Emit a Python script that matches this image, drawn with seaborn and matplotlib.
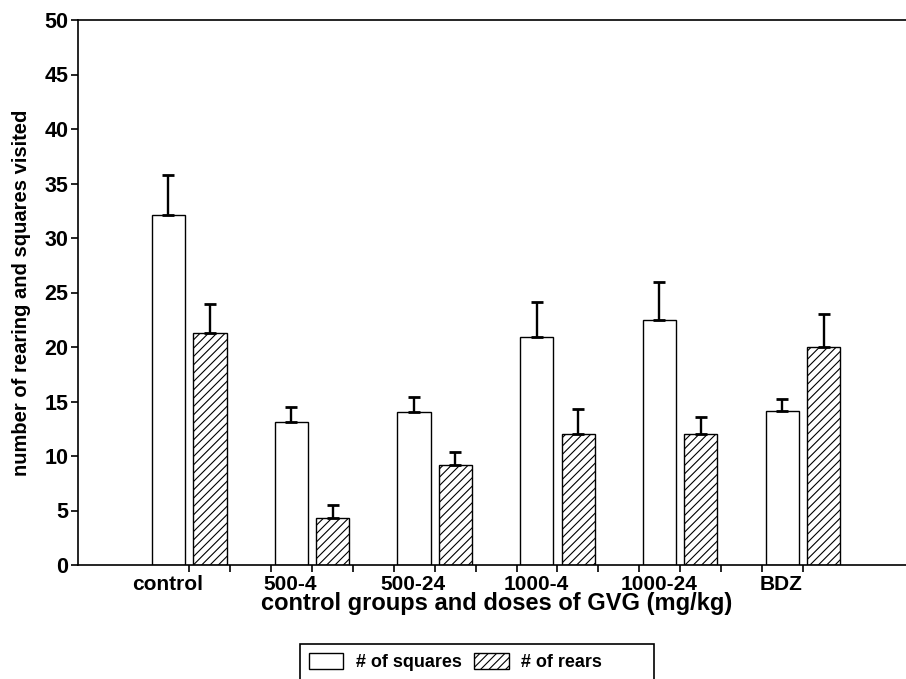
import numpy as np
import pandas as pd
import matplotlib
matplotlib.use("Agg")
import matplotlib.pyplot as plt
import matplotlib.transforms as mtransforms
from matplotlib.patches import Patch, Rectangle
import seaborn as sns

groups = ["control", "500-4", "500-24", "1000-4", "1000-24", "BDZ"]
series = ["# of squares", "# of rears"]
squares = [32.1, 13.15, 14.0, 20.9, 22.5, 14.1]
squares_sem = [3.7, 1.35, 1.4, 3.2, 3.45, 1.1]
rears = [21.3, 4.35, 9.2, 12.0, 12.0, 20.0]
rears_sem = [2.6, 1.15, 1.15, 2.3, 1.55, 3.0]
y_ticks = list(range(0, 55, 5))

sns.set_style("ticks")
plt.rcParams['font.family'] = ['Liberation Sans', 'DejaVu Sans']
plt.rcParams['font.weight'] = 'bold'
plt.rcParams['hatch.linewidth'] = 0.8
plt.rcParams['hatch.color'] = 'black'
for k in ['text.color', 'axes.labelcolor', 'xtick.color', 'ytick.color',
          'axes.edgecolor']:
    plt.rcParams[k] = 'black'

df = pd.DataFrame({
    "group": groups * 2,
    "value": squares + rears,
    "series": [series[0]] * len(groups) + [series[1]] * len(groups),
})
sems = [squares_sem, rears_sem]

W, H = 906, 679
fig = plt.figure(figsize=(W / 100, H / 100), dpi=100)
ax = fig.add_axes([78 / W, (H - 565) / H, (906 - 78) / W, (565 - 20) / H])

sns.barplot(data=df, x="group", y="value", hue="series", order=groups,
            hue_order=series, palette=["white", "white"], saturation=1,
            edgecolor="black", linewidth=1.0, width=0.676, gap=0.2,
            errorbar=None, legend=False, ax=ax)

bar_containers = list(ax.containers)[:2]
for ci, cont in enumerate(bar_containers):
    xs, ys = [], []
    for bar in cont:
        if ci == 1:
            bar.set_hatch("////")
        xs.append(bar.get_x() + bar.get_width() / 2)
        ys.append(bar.get_height())
    ax.errorbar(xs, ys, yerr=[np.zeros(len(xs)), sems[ci]], fmt="none",
                ecolor="black", elinewidth=1.7, capsize=4.3, capthick=2.0,
                zorder=5)

ax.set_xlim(-0.906, 5.84)
ax.set_ylim(0, 50)
ax.set_yticks(y_ticks)
ax.set_yticklabels([str(v) for v in y_ticks], fontsize=15.5,
                   fontweight="bold", color="black")

n_sub = 3
tick_pos = [i / n_sub for i in range((len(groups) - 1) * n_sub + 1)]
tick_lab = [groups[i // n_sub] if i % n_sub == 0 else ""
            for i in range(len(tick_pos))]
ax.set_xticks(tick_pos)
ax.set_xticklabels(tick_lab, fontsize=15, fontweight="bold", color="black")
ax.tick_params(axis="both", which="both", direction="out", length=5,
               width=1.2, color="black")
ax.tick_params(axis="x", pad=2.0)
ax.tick_params(axis="y", pad=2)
ax.set_xlabel("")
ax.set_ylabel("")
for s in ["left", "bottom", "top"]:
    ax.spines[s].set_visible(True)
    ax.spines[s].set_color("black")
    ax.spines[s].set_linewidth(1.2)
ax.spines["right"].set_visible(False)

offset = mtransforms.ScaledTranslation(-21.5 / 100, 0, fig.dpi_scale_trans)
for t in ax.xaxis.get_major_ticks():
    t.label1.set_transform(t.label1.get_transform() + offset)

fig.text(22 / W, 1 - 292.5 / H, "number of rearing and squares visited",
         rotation=90, ha="center", va="center", fontsize=14.5,
         fontweight="bold", color="black")
fig.text(497 / W, 1 - 610 / H, "control groups and doses of GVG (mg/kg)",
         ha="center", va="baseline", fontsize=17, fontweight="bold",
         color="black")

handles = [Patch(facecolor="white", edgecolor="black", linewidth=1.0),
           Patch(facecolor="white", edgecolor="black", linewidth=1.0,
                 hatch="////")]
fig.legend(handles, series, ncol=2, frameon=False, loc="center left",
           bbox_to_anchor=(309 / W, 1 - 662 / H),
           handlelength=1.9, handleheight=0.95, handletextpad=0.7,
           columnspacing=0.7, borderaxespad=0, borderpad=0,
           prop={"weight": "bold", "size": 13})
fig.add_artist(Rectangle((300 / W, 1 - 705 / H), 354 / W, 61 / H,
                         transform=fig.transFigure, fill=False,
                         edgecolor="black", linewidth=1.2, clip_on=False))

fig.savefig("out.png", dpi=100)
